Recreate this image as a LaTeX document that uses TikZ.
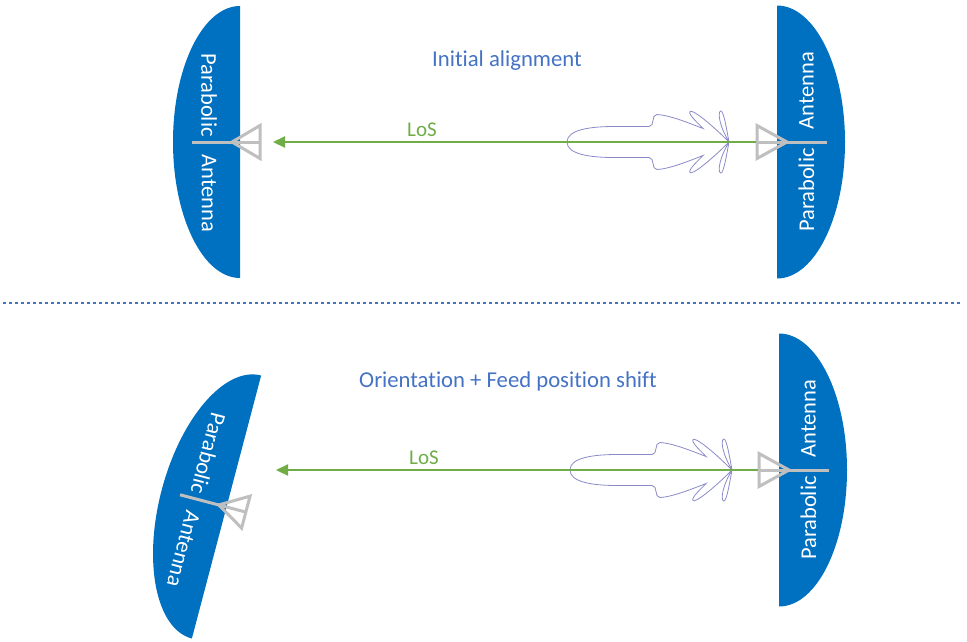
\documentclass[tikz,border=0pt]{standalone}
\usepackage{fontspec}
\setmainfont{Carlito}[Ligatures=NoCommon]
\usetikzlibrary{arrows.meta}

\definecolor{dishblue}{HTML}{0070C0}
\definecolor{feedgray}{HTML}{BFBFBF}
\definecolor{losgreen}{HTML}{70AD47}
\definecolor{titleblue}{HTML}{4472C4}
\definecolor{lobeviolet}{HTML}{8A8AC8}

\tikzset{
  dish/.style={fill=dishblue, draw=none},
  feed/.style={draw=feedgray, line width=3pt},
  dishlabel/.style={text=white, inner sep=0pt, font=\fontsize{22.5}{27}\selectfont},
  title/.style={text=titleblue, inner sep=0pt, anchor=base, font=\fontsize{22.7}{27}\selectfont},
  loslabel/.style={text=losgreen, inner sep=0pt, anchor=base, font=\fontsize{21}{25}\selectfont},
  los/.style={draw=losgreen, line width=2.2pt, -{Triangle[length=12pt,width=11pt]}},
  lobe/.style={draw=lobeviolet, line width=0.8pt},
  divider/.style={draw=titleblue, line width=1.5pt, dash pattern=on 3pt off 3pt},
  % dish opening to the right, origin at the centre of its flat edge
  leftdish/.pic={
    \fill[dish] (0,136) arc[start angle=90, end angle=270, x radius=67, y radius=136] -- cycle;
    \node[dishlabel, rotate=-90] (-upper) at (-31,47) {Parabolic};
    \node[dishlabel, rotate=-90] (-lower) at (-31,-51.5) {Antenna};
    \draw[feed] (-48,0) -- (20,0);
    \draw[feed] (-8,0) -- (20,16.5) -- (20,-16.5) -- cycle;
    \coordinate (-feed) at (20,0);
  },
  % dish opening to the left, origin at the centre of its flat edge
  rightdish/.pic={
    \fill[dish] (0,136.5) arc[start angle=90, end angle=-90, x radius=68, y radius=136.5] -- cycle;
    \node[dishlabel, rotate=90] (-upper) at (29.5,51.5) {Antenna};
    \node[dishlabel, rotate=90] (-lower) at (29.5,-48) {Parabolic};
    \draw[feed] (-20,0) -- (50,0);
    \draw[feed] (10,0) -- (-20,16.5) -- (-20,-16.5) -- cycle;
    \coordinate (-feed) at (-20,0);
  },
  % polar radiation pattern, origin at the feed phase centre
  radiation/.pic={
    \draw[lobe] (-162,0) .. controls (-162,12) and (-140,15.5) .. (-115,15.5)
      -- (-80,15.5) .. controls (-74,15.5) and (-78,27.5) .. (-72,27.5)
      .. controls (-60,27) and (-40,19) .. (-26,13.5)
      .. controls (-31,19) and (-41,27.5) .. (-39,30.5)
      .. controls (-37,33) and (-20,20) .. (0,0)
      .. controls (-20,-20) and (-37,-33) .. (-39,-30.5)
      .. controls (-41,-27.5) and (-31,-19) .. (-26,-13.5)
      .. controls (-40,-19) and (-60,-27) .. (-72,-27.5)
      .. controls (-78,-27.5) and (-74,-15.5) .. (-80,-15.5)
      -- (-115,-15.5) .. controls (-140,-15.5) and (-162,-12) .. (-162,0);
    \draw[lobe] (0,0) .. controls (-9.5,16) and (-11.5,29) .. (-8.5,31)
      .. controls (-5.5,32) and (-3,16) .. (0,0);
    \draw[lobe] (0,0) .. controls (-9.5,-16) and (-11.5,-29) .. (-8.5,-31)
      .. controls (-5.5,-32) and (-3,-16) .. (0,0);
    \coordinate (-centre) at (0,0);
  }
}

\begin{document}
\begin{tikzpicture}[x=1pt, y=1pt]
  \useasboundingbox (0,0) rectangle (967,-641);

  % ---- initial alignment ----
  \pic (tl) at (240,-142) {leftdish};
  \pic (tr) at (777,-142) {rightdish};
  \pic (pa) at (729,-142) {radiation};
  \coordinate (tipA) at (273,-142);
  \draw[los, shorten <=1.5pt] (tr-feed) -- (tipA);
  \node[loslabel] (losA) at (422,-136) {LoS};
  \node[title] (titleA) at (507,-66) {Initial alignment};

  % ---- separator ----
  \coordinate (divL) at (3,-303);
  \coordinate (divR) at (962,-303);
  \draw[divider] (divL) -- (divR);

  % ---- tilted dish with shifted feed ----
  \pic (bl) [rotate=-14.75, transform shape] at (226.5,-507) {leftdish};
  \pic (br) at (779,-470) {rightdish};
  \pic (pb) at (732,-470) {radiation};
  \coordinate (tipB) at (276,-470);
  \draw[los, shorten <=1.5pt] (br-feed) -- (tipB);
  \node[loslabel] (losB) at (424,-464) {LoS};
  \node[title] (titleB) at (508,-387) {Orientation + Feed position shift};
\end{tikzpicture}
\end{document}
